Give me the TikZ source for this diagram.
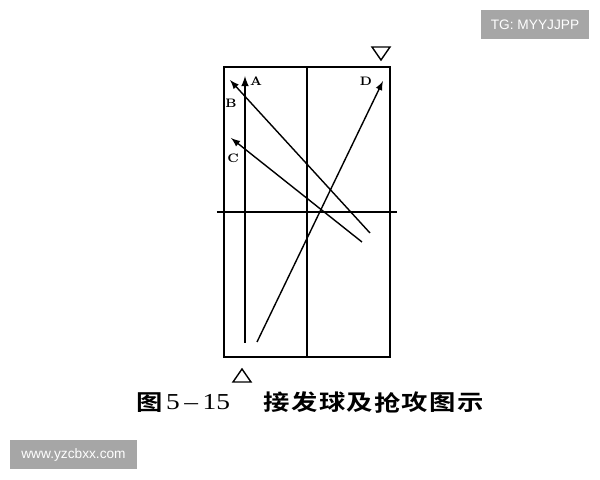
\documentclass[tikz,border=0pt]{standalone}
\usepackage{fontspec}
\newfontfamily\cjk{Noto Sans CJK SC}[BoldFont={* Bold}]
\newfontfamily\wmfont{Liberation Sans}
\newfontfamily\numfont{Liberation Serif}
\usetikzlibrary{arrows.meta}
\tikzset{
  golpe/.style={line width=0.8pt, arrows=-latex},
  letra/.style={font=\fontsize{7}{8}\selectfont\bfseries, inner sep=0pt},
  marca/.style={fill=black!35, text=white, font=\wmfont\fontsize{7.8}{9}\selectfont, inner sep=0pt, minimum height=16.5pt},
  rotulo/.style={inner sep=0pt, xscale=1.2, transform shape},
  hanzi/.style={rotulo, font=\cjk\bfseries\fontsize{12.5}{14}\selectfont},
  cifra/.style={rotulo, font=\numfont\fontsize{13}{14}\selectfont}
}
\begin{document}
\begin{tikzpicture}[x=0.02cm, y=-0.02cm]
  \useasboundingbox (0,0) rectangle (600,480);
      \draw [line width=1.4pt] (224,67) rectangle (390,357); % mesa
      \draw [line width=0.6pt] (307,67) -- (307,357);	% linea central
      \draw [line width=1.4pt] (217,212) -- (397,212);	% red
      % puntos de los golpes
      \coordinate (inicioA) at (245,343);
      \coordinate (finA) at (245,76);
      \coordinate (inicioB) at (370,233);
      \coordinate (finB) at (230,80);
      \coordinate (inicioC) at (362,242);
      \coordinate (finC) at (231,138);
      \coordinate (inicioD) at (257,342);
      \coordinate (finD) at (383,81);
      \draw [golpe, line width=1pt] (inicioA) -> (finA);
      \draw [golpe] (inicioB) -> (finB);
      \draw [golpe] (inicioC) -> (finC);
      \draw [golpe] (inicioD) -> (finD);
      \node [letra] (labA) at (256,81) {A};
      \node [letra] (labB) at (231,103) {B};
      \node [letra] (labC) at (233,158) {C};
      \node [letra] (labD) at (366,81) {D};
      \draw [line width=0.8pt] (372,47) -- (390,47) -- (381,60) -- cycle; % rival
      \draw [line width=0.8pt] (233,382) -- (251,382) -- (242,369) -- cycle; % sacador
      % pie de figura
      \node [hanzi] (tituloFig) at (150,402.5) {图};
      \node [cifra, anchor=base] (numFig) at (198,410) {5\,–\,15};
      \foreach \car [count=\i from 0] in {接,发,球,及,抢,攻,图,示}
        \node [hanzi] (titulo\i) at (277+27.6*\i,402.5) {\car};
      \node [marca, minimum width=62pt] (marcaTG) at (535,24.5) {TG: MYYJJPP};
      \node [marca, minimum width=72pt] (marcaWeb) at (73.5,454.5) {www.yzcbxx.com};
\end{tikzpicture}
\end{document}
